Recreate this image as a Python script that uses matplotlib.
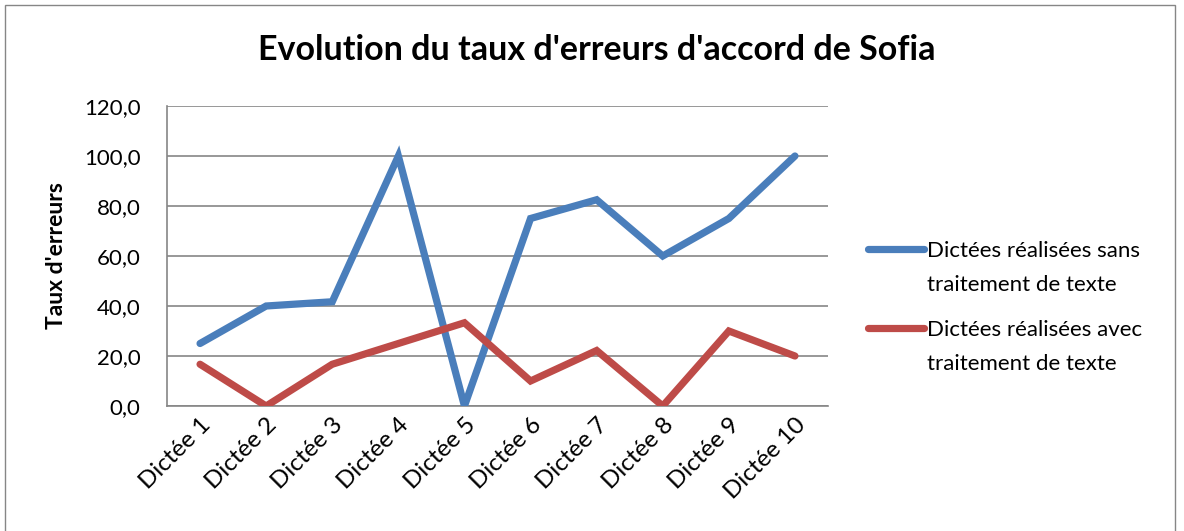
import matplotlib
matplotlib.use("Agg")
import matplotlib.pyplot as plt
from matplotlib.patches import Rectangle
from matplotlib.lines import Line2D

categories = ["Dictée 1", "Dictée 2", "Dictée 3", "Dictée 4", "Dictée 5",
              "Dictée 6", "Dictée 7", "Dictée 8", "Dictée 9", "Dictée 10"]
sans_tt = [25.0, 40.0, 41.7, 100.0, 0.0, 75.0, 82.5, 60.0, 75.0, 100.0]
avec_tt = [16.7, 0.0, 16.7, 25.0, 33.3, 10.0, 22.2, 0.0, 30.0, 20.0]
series_names = ["Dictées réalisées sans\ntraitement de texte",
                "Dictées réalisées avec\ntraitement de texte"]
series_colors = ["#4A7EBB", "#BE4B48"]
yticks = [0, 20, 40, 60, 80, 100, 120]
title = "Evolution du taux d'erreurs d'accord de Sofia"
ylabel = "Taux d'erreurs"

plt.rcParams['font.family'] = ['Lato', 'DejaVu Sans']

W, H = 1184, 531
fig = plt.figure(figsize=(W / 100, H / 100), dpi=100)
fig.patches.append(Rectangle((5 / W, -0.01), (1175 - 5) / W, 1 - 5 / H + 0.01,
                             transform=fig.transFigure, fill=False,
                             edgecolor="#868686", linewidth=1.0))

ax = fig.add_axes([167 / W, 1 - 406 / H, (828 - 167) / W, (406 - 106) / H])
x = list(range(len(categories)))
for vals, col in zip([sans_tt, avec_tt], series_colors):
    ax.plot(x, vals, color=col, linewidth=5.2, solid_joinstyle="miter",
            solid_capstyle="round", zorder=3)

ax.set_xlim(-0.5, len(categories) - 0.5)
ax.set_ylim(0, 120)
ax.set_yticks(yticks)
ax.set_yticklabels([f"{v:.1f}".replace(".", ",") for v in yticks], fontsize=16)
ax.set_xticks(x)
ax.set_xticklabels(categories, rotation=45, ha="right", va="top",
                   rotation_mode="anchor", fontsize=17.5)
ax.tick_params(axis="both", length=0)
ax.tick_params(axis="y", pad=19)
ax.tick_params(axis="x", pad=6)
ax.grid(axis="y", color="#868686", linewidth=1.2, zorder=0)
for s in ["top", "right"]:
    ax.spines[s].set_visible(False)
for s in ["left", "bottom"]:
    ax.spines[s].set_color("#868686")
    ax.spines[s].set_linewidth(1.2)

fig.text(597 / W, 1 - 50 / H, title, ha="center", va="center",
         fontsize=24.5, fontweight="bold")
fig.text(57 / W, 1 - 256 / H, ylabel, ha="center", va="center",
         rotation=90, fontsize=16.5, fontweight="bold")

# legend drawn manually so the line sits beside the first text line (Excel style)
leg_rows = [249, 328]
for name, col, yrow in zip(series_names, series_colors, leg_rows):
    fig.add_artist(Line2D([868 / W, 924 / W], [1 - yrow / H, 1 - yrow / H],
                          transform=fig.transFigure, color=col, linewidth=5.2,
                          solid_capstyle="round"))
    fig.text(927 / W, 1 - (yrow - 8) / H, name, ha="left", va="top",
             fontsize=16, linespacing=1.85)

fig.savefig("out.png", dpi=100)
